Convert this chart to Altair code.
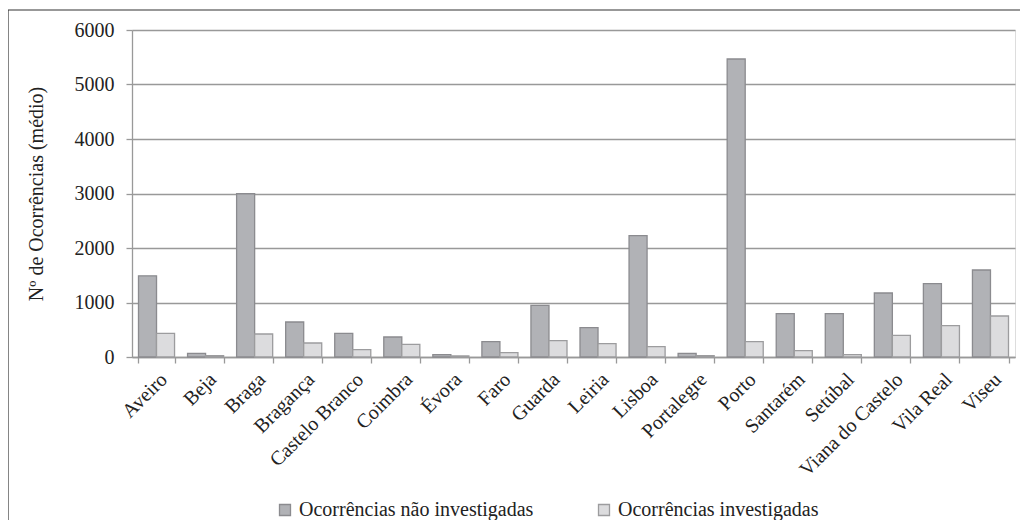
import altair as alt
import pandas as pd

provinces = ["Aveiro", "Beja", "Braga", "Bragança", "Castelo Branco", "Coimbra",
             "Évora", "Faro", "Guarda", "Leiria", "Lisboa", "Portalegre", "Porto",
             "Santarém", "Setúbal", "Viana do Castelo", "Vila Real", "Viseu"]
nao_investigadas = [1490, 68, 2995, 642, 435, 367, 42, 281, 948, 538, 2226, 68, 5468,
                    795, 795, 1174, 1345, 1596]
investigadas = [435, 24, 422, 257, 134, 233, 20, 79, 300, 244, 189, 24, 281,
                116, 42, 398, 575, 752]
series = ["Ocorrências não investigadas", "Ocorrências investigadas"]
fills = ["#b1b2b6", "#dcdcde"]
strokes = ["#8b8b8f", "#9c9c9e"]

rows = []
for p, a, b in zip(provinces, nao_investigadas, investigadas):
    rows.append({"Distrito": p, "Série": series[0], "Valor": a})
    rows.append({"Distrito": p, "Série": series[1], "Valor": b})
df = pd.DataFrame(rows)

FONT = "Liberation Serif"

bars = alt.Chart(df).mark_bar(strokeWidth=1.3).encode(
    x=alt.X("Distrito:N", sort=provinces, title=None,
            scale=alt.Scale(paddingInner=0.265, paddingOuter=0.1325),
            axis=alt.Axis(labelAngle=-45, tickBand="extent", ticks=True, tickSize=6,
                          tickColor="#999999", tickWidth=1.3, domainColor="#999999",
                          domainWidth=1.3, labelFontSize=20, labelFont=FONT,
                          labelColor="#222222", labelPadding=6, labelLimit=300, grid=False)),
    xOffset=alt.XOffset("Série:N", sort=series, scale=alt.Scale(paddingInner=0, paddingOuter=0)),
    y=alt.Y("Valor:Q", title="Nº de Ocorrências (médio)",
            scale=alt.Scale(domain=[0, 6000], nice=False),
            axis=alt.Axis(values=[0, 1000, 2000, 3000, 4000, 5000, 6000], format="d",
                          tickSize=6, tickColor="#999999", tickWidth=1.3,
                          domainColor="#999999", domainWidth=1.3,
                          gridColor="#999999", gridWidth=1.3,
                          labelFontSize=20, labelFont=FONT, labelColor="#222222",
                          labelPadding=12, titleFont=FONT, titleFontSize=20,
                          titleFontWeight="normal", titleColor="#222222", titlePadding=28)),
    fill=alt.Fill("Série:N", sort=series,
                  scale=alt.Scale(domain=series, range=fills),
                  legend=alt.Legend(title=None, orient="none", legendX=143, legendY=470,
                                    direction="horizontal", columns=2, symbolType="square",
                                    symbolSize=121, symbolStrokeWidth=1.3,
                                    labelFontSize=20, labelFont=FONT, labelColor="#222222",
                                    labelOffset=4, labelLimit=400, columnPadding=60)),
    stroke=alt.Stroke("Série:N", sort=series,
                      scale=alt.Scale(domain=series, range=strokes), legend=None),
)

frame_df = pd.DataFrame({"a": [0]})
frame_left = alt.Chart(frame_df).mark_rule(stroke="#333333", strokeWidth=1.2, clip=False).encode(
    x=alt.value(-124), y=alt.value(-20), y2=alt.value(700))
frame_top = alt.Chart(frame_df).mark_rule(stroke="#333333", strokeWidth=1.2, clip=False).encode(
    x=alt.value(-124), x2=alt.value(1200), y=alt.value(-20))

chart = alt.layer(frame_left, frame_top, bars).properties(
    width=883, height=327,
    autosize=alt.AutoSizeParams(type="none"),
    padding={"left": 124, "top": 22, "right": 5, "bottom": 163},
).configure_view(strokeWidth=0, stroke="transparent").configure(background="white")

chart.save("out.html", embed_options={"renderer": "svg", "actions": False})
